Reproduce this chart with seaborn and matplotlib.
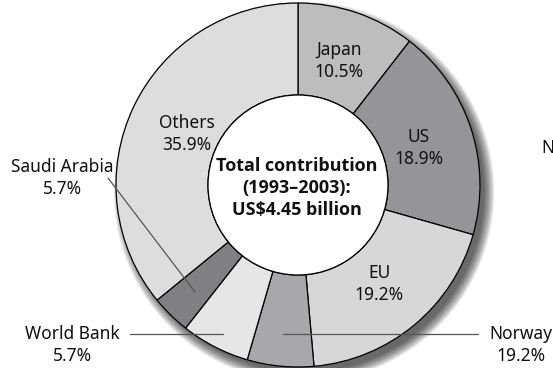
import matplotlib
matplotlib.use("Agg")
import matplotlib.pyplot as plt
import seaborn as sns
from matplotlib.patches import Circle, Wedge

# ---- data ----
donors = ["Japan", "US", "EU", "Norway", "World Bank", "Saudi Arabia", "Others"]
shares = [10.5, 18.9, 19.2, 5.9, 6.1, 3.5, 35.9]          # slice sizes
label_pct = ["10.5%", "18.9%", "19.2%", "19.2%", "5.7%", "5.7%", "35.9%"]  # printed labels
colors = ["#bcbdbf", "#949598", "#d6d7d9", "#a7a8ab", "#e5e6e8", "#7f8083", "#dcdddf"]
center_text = "Total contribution\n(1993\u20132003):\nUS$4.45 billion"

sns.set_theme(style="white")
plt.rcParams["font.family"] = ["Noto Sans", "DejaVu Sans"]

W, H = 553, 368
fig = plt.figure(figsize=(W / 100, H / 100), dpi=100)
ax = fig.add_axes([0, 0, 1, 1])

def P(px, py):
    return (px, H - py)

cx, cy = P(298, 185)
R_out, R_in = 182, 90

# drop shadow
for i in range(14):
    r = R_out - 2 + i * 0.8
    ax.add_patch(Circle((cx + 6, cy - 7), r, color="black", alpha=0.06, lw=0, zorder=0))

wedges, _ = ax.pie(shares, colors=colors, startangle=90, counterclock=False,
                   center=(cx, cy), radius=R_out, frame=True,
                   wedgeprops=dict(width=R_out - R_in, edgecolor="black", linewidth=0.9))
for w in wedges:
    w.set_zorder(2)
ax.add_patch(Circle((cx, cy), R_in, facecolor="white", edgecolor="black", lw=0.9, zorder=3))
ax.set_xlim(0, W)
ax.set_ylim(0, H)
ax.axis("off")

fs = 12.5
ls = 1.32
def lab(i, px, py):
    ax.text(*P(px, py), f"{donors[i]}\n{label_pct[i]}", ha="center", va="center",
            fontsize=fs, linespacing=ls, color="#111111", zorder=5)

lab(0, 339, 61)
lab(1, 419, 148)
lab(2, 379, 284)
lab(6, 187, 134)
lab(5, 62, 178)
lab(4, 72, 345)
lab(3, 521, 345)

ax.text(*P(297, 188), center_text, ha="center", va="center", fontsize=13,
        fontweight="bold", linespacing=1.28, color="#111111", zorder=5,
        family=["Open Sans", "DejaVu Sans"])

ax.text(*P(548, 148), "N", ha="center", va="center", fontsize=fs, color="#111111", zorder=5)

# leader lines
lc = "#555555"
ax.plot(*zip(P(108, 178), P(195, 292)), color=lc, lw=0.9, zorder=6)
ax.plot(*zip(P(130, 334), P(223, 334)), color=lc, lw=0.9, zorder=6)
ax.plot(*zip(P(283, 334), P(478, 334)), color=lc, lw=0.9, zorder=6)

fig.savefig("out.png", dpi=100)
